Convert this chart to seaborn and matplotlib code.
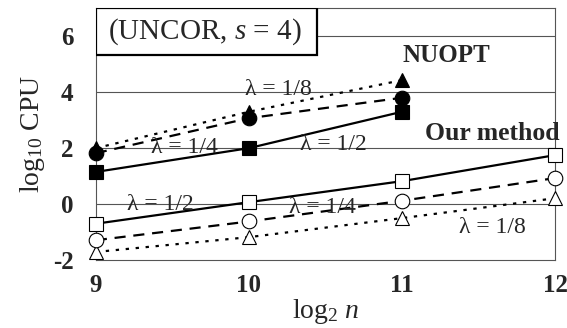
import matplotlib
matplotlib.use("Agg")
import matplotlib.pyplot as plt
import matplotlib.patches as patches
import seaborn as sns
import pandas as pd

# ---- data ----
x_nuopt = [9, 10, 11]
nuopt_half = [1.15, 2.0, 3.3]
nuopt_quarter = [1.82, 3.07, 3.8]
nuopt_eighth = [2.0, 3.3, 4.43]

x_ours = [9, 10, 11, 12]
ours_half = [-0.7, 0.07, 0.82, 1.75]
ours_quarter = [-1.29, -0.62, 0.12, 0.93]
ours_eighth = [-1.71, -1.18, -0.5, 0.21]

xticks = [9, 10, 11, 12]
yticks = [-2, 0, 2, 4, 6]

sns.set_style("white")
plt.rcParams['font.family'] = ['Liberation Serif', 'DejaVu Serif']
plt.rcParams['mathtext.fontset'] = 'custom'
plt.rcParams['mathtext.rm'] = 'Liberation Serif'
plt.rcParams['mathtext.it'] = 'Liberation Serif:italic'
plt.rcParams['mathtext.bf'] = 'Liberation Serif:bold'

fig = plt.figure(figsize=(5.67, 3.28), dpi=100)
ax = fig.add_axes([0.169, 0.207, 0.81, 0.768])

ms = 10.5
series = [
    (x_nuopt, nuopt_eighth, '^', (0, (1.5, 3)), 'black'),
    (x_nuopt, nuopt_quarter, 'o', (0, (5, 3.5)), 'black'),
    (x_nuopt, nuopt_half, 's', '-', 'black'),
    (x_ours, ours_eighth, '^', (0, (1.5, 3)), 'white'),
    (x_ours, ours_quarter, 'o', (0, (5, 3.5)), 'white'),
    (x_ours, ours_half, 's', '-', 'white'),
]
for xs, ys, mk, ls, fc in series:
    df = pd.DataFrame({'x': xs, 'y': ys})
    sns.lineplot(data=df, x='x', y='y', ax=ax, color='black', marker=mk,
                 markersize=ms, markerfacecolor=fc, markeredgecolor='black',
                 markeredgewidth=0.8, linestyle=ls, linewidth=1.6, clip_on=False,
                 zorder=4)

ax.set_xlim(9, 12)
ax.set_ylim(-2, 7)
ax.set_xticks(xticks)
ax.set_yticks(yticks)
ax.set_xticklabels([str(t) for t in xticks], fontsize=18, fontweight='bold')
ax.set_yticklabels([str(t) for t in yticks], fontsize=18, fontweight='bold')
ax.tick_params(axis='x', direction='in', length=7, width=0.8, color='#555555', pad=10)
ax.tick_params(axis='y', length=0, pad=16)
for y in [0, 2, 4, 6]:
    ax.axhline(y, color='#555555', linewidth=0.8, zorder=0)
for s in ax.spines.values():
    s.set_color('#555555')
    s.set_linewidth(0.8)

ax.set_xlabel(r'log$_2$ $n$', fontsize=20, labelpad=0)
ax.set_ylabel(r'log$_{10}$ CPU', fontsize=20, labelpad=4)

# boxed title
rect = patches.Rectangle((0, 0.813), 0.481, 0.187, transform=ax.transAxes,
                         facecolor='white', edgecolor='black', linewidth=1.6, zorder=5)
ax.add_patch(rect)
ax.text(0.237, 0.905, r'(UNCOR, $s$ = 4)', transform=ax.transAxes, fontsize=21,
        ha='center', va='center', zorder=6)

ax.text(11.29, 5.07, 'NUOPT', fontsize=18, fontweight='bold', ha='center', va='baseline')
ax.text(11.59, 2.29, 'Our method', fontsize=18.5, fontweight='bold', ha='center', va='baseline',
        clip_on=False)

lab = dict(fontsize=17, ha='center', va='baseline', zorder=6)
ax.text(10.19, 3.89, 'λ = 1/8', **lab)
ax.text(9.58, 1.82, 'λ = 1/4', **lab)
ax.text(10.55, 1.93, 'λ = 1/2', **lab)
ax.text(9.42, -0.21, 'λ = 1/2', **lab)
ax.text(10.48, -0.32, 'λ = 1/4', **lab)
ax.text(11.59, -1.04, 'λ = 1/8', **lab)

fig.savefig('out.png', dpi=100)
